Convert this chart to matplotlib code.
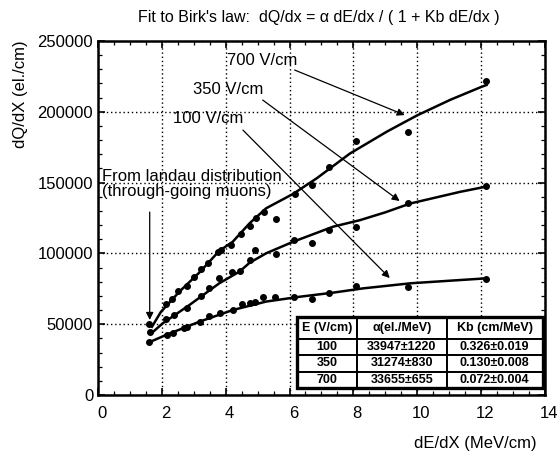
import numpy as np
import matplotlib
matplotlib.use('Agg')
import matplotlib.pyplot as plt
import matplotlib.transforms as mtransforms
from matplotlib.patches import Rectangle
from matplotlib.ticker import MultipleLocator

plt.rcParams['font.family'] = ['Liberation Sans', 'DejaVu Sans']

# measured points (dE/dx in MeV/cm, dQ/dx in el./cm)
x_700 = [1.60, 2.12, 2.32, 2.52, 2.80, 3.02, 3.23, 3.44, 3.76, 3.86, 4.17, 4.49,
         4.75, 4.94, 5.21, 5.57, 6.16, 6.70, 7.24, 8.07, 9.70, 12.16]
y_700 = [50200, 64600, 68000, 73800, 77100, 83000, 88900, 93000, 101300, 102300, 105900, 113700,
         119100, 124700, 129000, 124500, 142100, 148000, 161200, 179500, 185700, 221600]

x_350 = [1.62, 2.13, 2.37, 2.80, 3.23, 3.49, 3.80, 4.19, 4.45, 4.75, 4.91, 5.57,
         6.13, 6.70, 7.24, 8.07, 9.71, 12.17]
y_350 = [44700, 53700, 56700, 61700, 70000, 75300, 82500, 86700, 87400, 95300, 102700, 99300,
         109500, 107100, 116700, 118900, 135900, 147600]

x_100 = [1.60, 2.15, 2.36, 2.70, 2.80, 3.18, 3.49, 3.81, 4.22, 4.52, 4.77, 4.93, 5.18,
         5.55, 6.13, 6.69, 7.25, 8.07, 9.71, 12.17]
y_100 = [37400, 42400, 43600, 47500, 48000, 51500, 55700, 57700, 59700, 64400, 64700, 65500, 69400,
         69200, 69000, 67600, 72000, 76700, 76500, 82000]

# fitted curves as drawn
fx_700 = [1.69, 1.97, 2.55, 3.18, 3.80, 4.22, 4.75, 5.27, 6.11, 6.85, 7.89, 9.05, 10.0, 11.04, 12.0, 12.17]
fy_700 = [48200, 58700, 73000, 86600, 101800, 108200, 121300, 131900, 142000, 153000, 170500,
          186000, 197500, 208500, 217500, 218900]
fx_350 = [1.65, 2.02, 2.86, 3.80, 4.43, 4.75, 5.27, 6.11, 7.37, 8.21, 9.0, 9.79, 11.35, 12.15]
fy_350 = [43100, 50500, 63500, 78900, 87100, 93400, 100100, 108200, 118900, 123500, 129000,
          135300, 143500, 147100]
fx_100 = [1.62, 2.13, 3.18, 4.22, 5.27, 6.32, 7.37, 8.3, 9.79, 11.35, 12.17]
fy_100 = [37400, 42400, 51800, 60000, 66000, 69400, 72300, 75300, 78900, 81200, 82400]

table_cols = ['E (V/cm)', 'α(el./MeV)', 'Kb (cm/MeV)']
table_rows = [['100', '33947±1220', '0.326±0.019'],
              ['350', '31274±830', '0.130±0.008'],
              ['700', '33655±655', '0.072±0.004']]

fig = plt.figure(figsize=(5.6, 4.53), dpi=100)
ax = fig.add_axes([0.175, 0.128, 0.798, 0.7815])

for fx, fy, px, py in [(fx_700, fy_700, x_700, y_700),
                       (fx_350, fy_350, x_350, y_350),
                       (fx_100, fy_100, x_100, y_100)]:
    ax.plot(fx, fy, color='black', lw=1.8)
    ax.plot(px, py, 'o', color='black', ms=4)

ax.set_xlim(0, 14)
ax.set_ylim(0, 250000)
ax.xaxis.set_major_locator(MultipleLocator(2))
ax.xaxis.set_minor_locator(MultipleLocator(0.5))
ax.yaxis.set_major_locator(MultipleLocator(50000))
ax.yaxis.set_minor_locator(MultipleLocator(10000))
ax.tick_params(which='both', direction='in', top=True, right=True, labelsize=12)
ax.tick_params(which='major', length=5, width=1.2)
ax.tick_params(which='minor', length=3, width=0.9)
ax.tick_params(axis='x', pad=8)
ax.grid(True, which='major', color='black', ls=(0, (1, 2)), lw=1.0)
for s in ax.spines.values():
    s.set_linewidth(1.8)

# tick labels in the scan sit a little right of their ticks
shift = mtransforms.ScaledTranslation(0.04, 0, fig.dpi_scale_trans)
for lab in ax.get_xticklabels():
    lab.set_transform(lab.get_transform() + shift)

# arrows and labels
arrow = dict(arrowstyle='-|>', color='black', lw=0.9, mutation_scale=11, shrinkA=0, shrinkB=0)
ax.annotate('', xy=(9.61, 197700), xytext=(6.16, 229500), arrowprops=arrow)
ax.annotate('', xy=(9.45, 137000), xytext=(5.16, 208300), arrowprops=arrow)
ax.annotate('', xy=(9.14, 82600), xytext=(4.54, 187100), arrowprops=arrow)
ax.annotate('', xy=(1.62, 53000), xytext=(1.62, 129200), arrowprops=arrow)
ax.text(4.03, 236500, '700 V/cm', fontsize=12, va='center', ha='left')
ax.text(2.97, 216000, '350 V/cm', fontsize=12, va='center', ha='left')
ax.text(2.34, 195000, '100 V/cm', fontsize=12, va='center', ha='left')
ax.text(0.12, 149000, 'From landau distribution\n(through-going muons)', fontsize=12,
        va='center', ha='left', linespacing=1.05)

tbl = ax.table(cellText=table_rows, colLabels=table_cols, cellLoc='center',
               colWidths=[0.244, 0.366, 0.39], bbox=[0.445, 0.02, 0.55, 0.2])
tbl.auto_set_font_size(False)
for (r, c), cell in tbl.get_celld().items():
    cell.set_linewidth(1.4)
    cell.set_edgecolor('black')
    cell.set_height(0.062 if r == 0 else 0.047)
    cell.get_text().set_fontsize(9)
    cell.get_text().set_fontweight('bold')
tbl.set_zorder(5)
ax.add_patch(Rectangle((0.445, 0.02), 0.55, 0.2, transform=ax.transAxes, fill=False,
                       lw=2.4, edgecolor='black', zorder=6, clip_on=False))

fig.text(0.57, 0.962, "Fit to Birk's law:  dQ/dx = α dE/dx / ( 1 + Kb dE/dx )",
         fontsize=11.5, ha='center', va='center')
fig.text(0.036, 0.91, 'dQ/dX (el./cm)', rotation=90, fontsize=12, ha='center', va='top')
fig.text(0.959, 0.022, 'dE/dX (MeV/cm)', fontsize=12, ha='right', va='center')

fig.savefig('out.png', dpi=100)
